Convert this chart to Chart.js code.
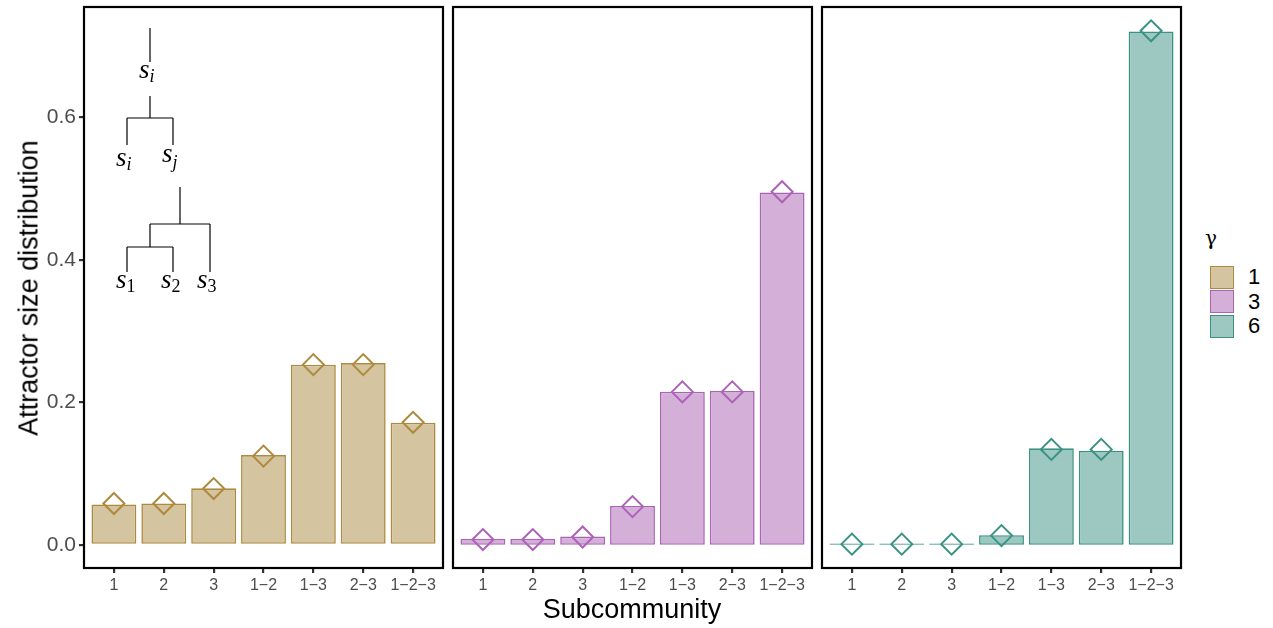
<!DOCTYPE html>
<html>
<head>
<meta charset="utf-8">
<script src="https://cdn.jsdelivr.net/npm/chart.js@4"></script>
<style>
  body { margin: 0; background: #fff; }
  #wrap { position: relative; width: 1273px; height: 628px; font-family: "Liberation Sans", Arial, sans-serif; }
  .panel { position: absolute; top: 0; height: 628px; }
  #ytitle { position: absolute; left: 29px; top: 288px; transform: translate(-50%, -50%) rotate(-90deg); font-size: 27px; white-space: nowrap; color: #000; }
  #xtitle { position: absolute; left: 632px; top: 609px; transform: translate(-50%, -50%); font-size: 27px; color: #000; }
  #legend { position: absolute; left: 1203px; top: 226px; font-size: 22px; color: #000; }
  #legend .ttl { font-family: "DejaVu Serif", serif; font-size: 20px; margin: 0 0 15px 2px; }
  #legend .row { display: flex; align-items: center; height: 24.5px; }
  #legend .key { width: 22px; height: 21px; margin-left: 7px; margin-right: 14px; border: 1.5px solid; }
  #tree { position: absolute; left: 0; top: 0; }
</style>
</head>
<body>
<div id="wrap">
  <canvas id="c1" class="panel" style="left:0px" width="448" height="628"></canvas>
  <canvas id="c2" class="panel" style="left:448px" width="369" height="628"></canvas>
  <canvas id="c3" class="panel" style="left:817px" width="369" height="628"></canvas>
  <svg id="tree" width="450" height="320" font-family="'Liberation Serif', 'DejaVu Serif', serif" font-style="italic">
    <g stroke="#000" stroke-width="1.2" fill="none">
      <line x1="150" y1="28" x2="150" y2="62"/>
      <line x1="150" y1="96" x2="150" y2="118"/>
      <line x1="127" y1="118" x2="173" y2="118"/>
      <line x1="127" y1="118" x2="127" y2="145"/>
      <line x1="173" y1="118" x2="173" y2="145"/>
      <line x1="180" y1="187" x2="180" y2="224"/>
      <line x1="150" y1="224" x2="210" y2="224"/>
      <line x1="150" y1="224" x2="150" y2="247"/>
      <line x1="127" y1="247" x2="173" y2="247"/>
      <line x1="127" y1="247" x2="127" y2="272"/>
      <line x1="173" y1="247" x2="173" y2="272"/>
      <line x1="210" y1="224" x2="210" y2="272"/>
    </g>
    <g fill="#000" font-size="27">
      <text x="139" y="78">s<tspan font-size="18" dy="4">i</tspan></text>
      <text x="116" y="166">s<tspan font-size="18" dy="4">i</tspan></text>
      <text x="162" y="162">s<tspan font-size="18" dy="6">j</tspan></text>
      <text x="116" y="288">s<tspan font-size="18" font-style="normal" dy="4">1</tspan></text>
      <text x="161" y="288">s<tspan font-size="18" font-style="normal" dy="4">2</tspan></text>
      <text x="197" y="288">s<tspan font-size="18" font-style="normal" dy="4">3</tspan></text>
    </g>
  </svg>
  <div id="ytitle">Attractor size distribution</div>
  <div id="xtitle">Subcommunity</div>
  <div id="legend">
    <div class="ttl">γ</div>
    <div id="legendRows"></div>
  </div>
</div>
<script>
const categories = ['1', '2', '3', '1\u22122', '1\u22123', '2\u22123', '1\u22122\u22123'];
const gammas = ['1', '3', '6'];

// bar heights per gamma
const bars1 = [0.0568, 0.0582, 0.0793, 0.126, 0.2528, 0.2551, 0.1715];
const bars3 = [0.0084, 0.0084, 0.0116, 0.0547, 0.215, 0.216, 0.4947];
const bars6 = [0.002, 0.002, 0.002, 0.0135, 0.1355, 0.132, 0.7206];

// diamonds per gamma
const pts1 = [0.058, 0.058, 0.079, 0.1246, 0.253, 0.253, 0.172];
const pts3 = [0.0074, 0.0074, 0.011, 0.0537, 0.2147, 0.2147, 0.4957];
const pts6 = [0.001, 0.001, 0.001, 0.013, 0.134, 0.134, 0.7216];

const yTicks = [0, 0.2, 0.4, 0.6];

const lineColors = ['#AD8A3E', '#AC62B6', '#3A9282'];
const fillColors = ['#D4C49F', '#D4B0D8', '#9DC8C2'];

const panelBorder = {
    id: 'panelBorder',
    afterDraw(chart) {
        const a = chart.chartArea;
        const ctx = chart.ctx;
        ctx.save();
        ctx.strokeStyle = '#000';
        ctx.lineWidth = 2.2;
        ctx.strokeRect(a.left, a.top, a.right - a.left, a.bottom - a.top);
        ctx.restore();
    },
};

function noPad(s) {
    s.paddingTop = 0;
    s.paddingBottom = 0;
    s.paddingLeft = 0;
    s.paddingRight = 0;
}

function makePanel(id, bars, pts, k, showY) {
    new Chart(document.getElementById(id), {
        type: 'bar',
        data: {
            datasets: [
                {
                    type: 'scatter',
                    data: pts.map((v, i) => ({ x: i, y: v })),
                    pointStyle: 'rectRot',
                    pointRadius: 10.5,
                    backgroundColor: 'rgba(0,0,0,0)',
                    borderColor: lineColors[k],
                    borderWidth: 2,
                    order: 0,
                },
                {
                    data: bars.map((v, i) => ({ x: i, y: v })),
                    backgroundColor: fillColors[k],
                    borderColor: lineColors[k],
                    borderWidth: 1.6,
                    borderSkipped: false,
                    barPercentage: 0.9,
                    categoryPercentage: 1,
                    order: 1,
                },
            ],
        },
        options: {
            responsive: false,
            animation: false,
            layout: { autoPadding: false, padding: { top: 7, right: 5, bottom: 0, left: showY ? 0 : 5 } },
            plugins: { legend: { display: false }, tooltip: { enabled: false } },
            scales: {
                x: {
                    type: 'linear',
                    offset: false,
                    min: -0.6,
                    max: 6.6,
                    afterBuildTicks: (s) => { s.ticks = categories.map((c, i) => ({ value: i })); },
                    afterFit: (s) => { s.height = 60; noPad(s); },
                    border: { display: false },
                    grid: { offset: false, drawOnChartArea: false, drawTicks: true, tickLength: 5, tickColor: '#333', lineWidth: 2.2 },
                    ticks: {
                        callback: (v) => categories[v],
                        autoSkip: false,
                        maxRotation: 0,
                        padding: 3,
                        color: '#4d4d4d',
                        font: { family: 'Liberation Sans', size: 16 },
                    },
                },
                y: {
                    display: showY,
                    min: -0.0325,
                    max: 0.755,
                    afterBuildTicks: (s) => { s.ticks = yTicks.map((v) => ({ value: v })); },
                    afterFit: (s) => { if (showY) s.width = 84; noPad(s); },
                    border: { display: false },
                    grid: { drawOnChartArea: false, drawTicks: true, tickLength: 5, tickColor: '#333', lineWidth: 2.2 },
                    ticks: {
                        callback: (v) => v.toFixed(1),
                        padding: 3,
                        color: '#4d4d4d',
                        font: { family: 'Liberation Sans', size: 21 },
                    },
                },
            },
        },
        plugins: [panelBorder],
    });
}

makePanel('c1', bars1, pts1, 0, true);
makePanel('c2', bars3, pts3, 1, false);
makePanel('c3', bars6, pts6, 2, false);

// legend keys
const rows = document.getElementById('legendRows');
gammas.forEach((g, k) => {
    const r = document.createElement('div');
    r.className = 'row';
    r.innerHTML = '<div class="key" style="background:' + fillColors[k] + ';border-color:' + lineColors[k] + '"></div><span>' + g + '</span>';
    rows.appendChild(r);
});
</script>
</body>
</html>
